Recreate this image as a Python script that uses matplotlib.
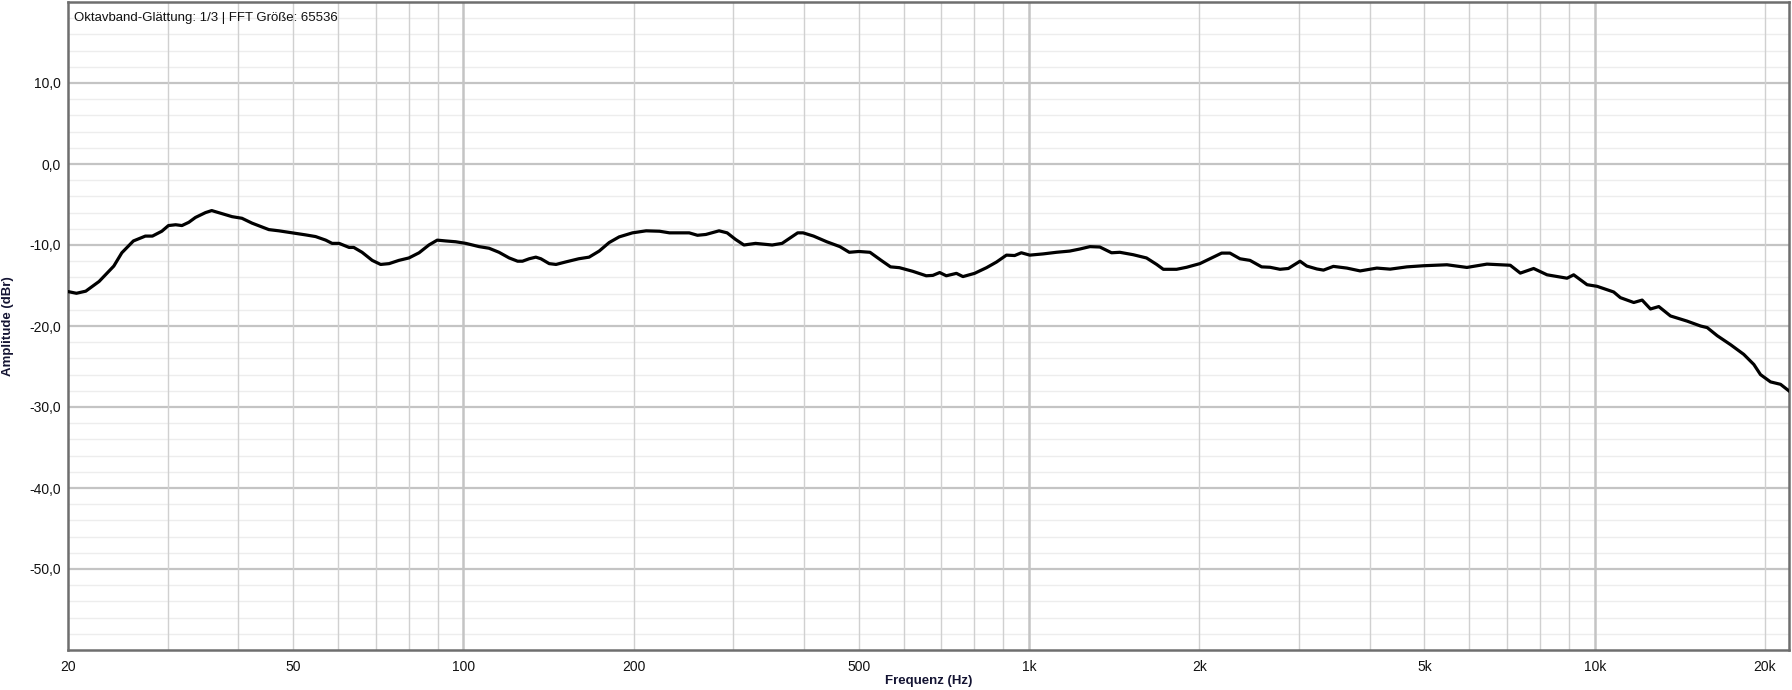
import numpy as np
import matplotlib
matplotlib.use("Agg")
import matplotlib.pyplot as plt
from matplotlib.ticker import FixedLocator, NullFormatter

plt.rcParams['font.family'] = ['Liberation Sans', 'DejaVu Sans']

# Frequenzgang, Hz / dBr
freq = [20, 20.7, 21.5, 22.7, 24.1, 24.9, 26.1, 27.4, 28.2, 29.3, 30.1, 31.0, 31.8,
        32.7, 33.6, 35.0, 35.9, 36.9, 39.0, 40.6, 42.3, 45.3, 47.2, 49.8, 52.6,
        54.8, 57.1, 58.6, 60.3, 62.8, 64.0, 66.2, 69.0, 71.4, 73.9, 76.9, 80.1,
        83.5, 86.9, 89.9, 93.1, 96.9, 101, 106.6, 111, 115.6, 120.5, 124.7, 127.2,
        130.7, 134.3, 137.1, 141.8, 145.8, 151.5, 159.9, 166.8, 173.8, 181, 188.5,
        199, 210.4, 222.2, 231.4, 250.7, 259.3, 268.3, 283.1, 292.6, 302.6, 313.3,
        328.4, 351.4, 365.9, 378.6, 389.9, 398.6, 416, 438.9, 463, 481, 500.2,
        523.3, 547.8, 569, 590, 623, 658, 676, 695, 714, 744, 764, 801, 841, 876,
        912, 943, 969, 1003, 1059, 1118, 1180, 1229, 1281, 1334, 1399, 1447, 1528,
        1613, 1681, 1727, 1823, 1899, 2004, 2088, 2190, 2265, 2360, 2458, 2577,
        2667, 2777, 2873, 3013, 3097, 3227, 3315, 3451, 3646, 3848, 4119, 4348,
        4655, 4982, 5479, 5943, 6448, 7090, 7386, 7798, 8236, 8935, 9178, 9692,
        10095, 10801, 11100, 11722, 12128, 12546, 12978, 13610, 14568, 15382,
        15807, 16465, 17378, 18340, 19110, 19635, 20452, 21304, 22035]
amp = [-15.75, -15.96, -15.7, -14.5, -12.6, -10.96, -9.5, -8.9, -8.9, -8.3, -7.6,
       -7.5, -7.6, -7.2, -6.6, -6.0, -5.75, -6.0, -6.5, -6.7, -7.3, -8.1, -8.25,
       -8.5, -8.75, -8.96, -9.4, -9.8, -9.8, -10.3, -10.3, -10.9, -11.9, -12.4,
       -12.3, -11.9, -11.6, -10.96, -10.0, -9.4, -9.5, -9.6, -9.8, -10.2, -10.4,
       -10.9, -11.6, -12.0, -12.0, -11.7, -11.5, -11.7, -12.3, -12.4, -12.1,
       -11.7, -11.5, -10.75, -9.7, -9.0, -8.5, -8.25, -8.3, -8.5, -8.5, -8.8,
       -8.7, -8.25, -8.5, -9.3, -10.0, -9.8, -10.0, -9.8, -9.1, -8.5, -8.5, -8.9,
       -9.6, -10.2, -10.9, -10.8, -10.9, -11.9, -12.7, -12.8, -13.25, -13.8,
       -13.75, -13.4, -13.8, -13.5, -13.9, -13.5, -12.8, -12.1, -11.25, -11.3,
       -10.96, -11.25, -11.1, -10.9, -10.75, -10.5, -10.2, -10.25, -10.96, -10.9,
       -11.2, -11.6, -12.4, -13.0, -13.0, -12.75, -12.3, -11.7, -11.0, -11.0,
       -11.7, -11.9, -12.7, -12.75, -13.0, -12.9, -12.0, -12.6, -12.96, -13.1,
       -12.64, -12.85, -13.2, -12.85, -12.98, -12.7, -12.56, -12.44, -12.77,
       -12.36, -12.5, -13.47, -12.9, -13.68, -14.1, -13.68, -14.9, -15.1, -15.8,
       -16.5, -17.1, -16.8, -17.9, -17.6, -18.76, -19.4, -20.0, -20.2, -21.2,
       -22.3, -23.5, -24.75, -26.0, -26.9, -27.2, -28.0]

x_ticks = [20, 50, 100, 200, 500, 1000, 2000, 5000, 10000, 20000]
x_ticklabels = ['20', '50', '100', '200', '500', '1k', '2k', '5k', '10k', '20k']
y_ticks = [-50, -40, -30, -20, -10, 0, 10]

fig = plt.figure(figsize=(17.92, 6.9), dpi=100)
ax = fig.add_axes([68/1792, 40/690, 1721/1792, 648/690])

ax.set_xscale('log')
ax.set_xlim(20, 22050)
ax.set_ylim(-60, 20)

# Gitter
for yv in np.arange(-58, 20, 2):
    if yv % 10 != 0:
        ax.axhline(yv, color='#ededed', lw=1.0, zorder=0)
for yv in range(-50, 20, 10):
    ax.axhline(yv, color='#c4c4c4', lw=1.6, zorder=1)
vlines = [d * m for d in (10, 100, 1000, 10000) for m in range(1, 10)]
for xv in vlines:
    if 20 < xv < 22050:
        if xv in (100, 1000, 10000):
            ax.axvline(xv, color='#c4c4c4', lw=1.8, zorder=1)
        else:
            ax.axvline(xv, color='#d0d0d0', lw=1.0, zorder=1)

ax.plot(freq, amp, color='black', lw=2.3, zorder=3)

ax.xaxis.set_major_locator(FixedLocator(x_ticks))
ax.set_xticklabels(x_ticklabels)
ax.xaxis.set_minor_formatter(NullFormatter())
ax.xaxis.set_minor_locator(FixedLocator([]))
ax.set_yticks(y_ticks)
ax.set_yticklabels([f'{v:.1f}'.replace('.', ',') for v in y_ticks])
ax.tick_params(axis='both', length=0, labelsize=10, colors='#111111')
ax.tick_params(axis='x', pad=7)
ax.tick_params(axis='y', pad=5)

for s in ax.spines.values():
    s.set_color('#6e6e6e')
    s.set_linewidth(1.8)

ax.set_xlabel('Frequenz (Hz)', fontsize=9.5, fontweight='bold', color='#141433')
ax.xaxis.set_label_coords(0.5, -25/648)
ax.set_ylabel('Amplitude (dBr)', fontsize=9.5, fontweight='bold', color='#141433')
ax.yaxis.set_label_coords(-54/1721, 0.5)

ax.text(6/1721, 0.985, 'Oktavband-Glättung: 1/3 | FFT Größe: 65536', transform=ax.transAxes,
        fontsize=9.5, color='#111111', va='top', ha='left')

fig.savefig('out.png', dpi=100, facecolor='white')
